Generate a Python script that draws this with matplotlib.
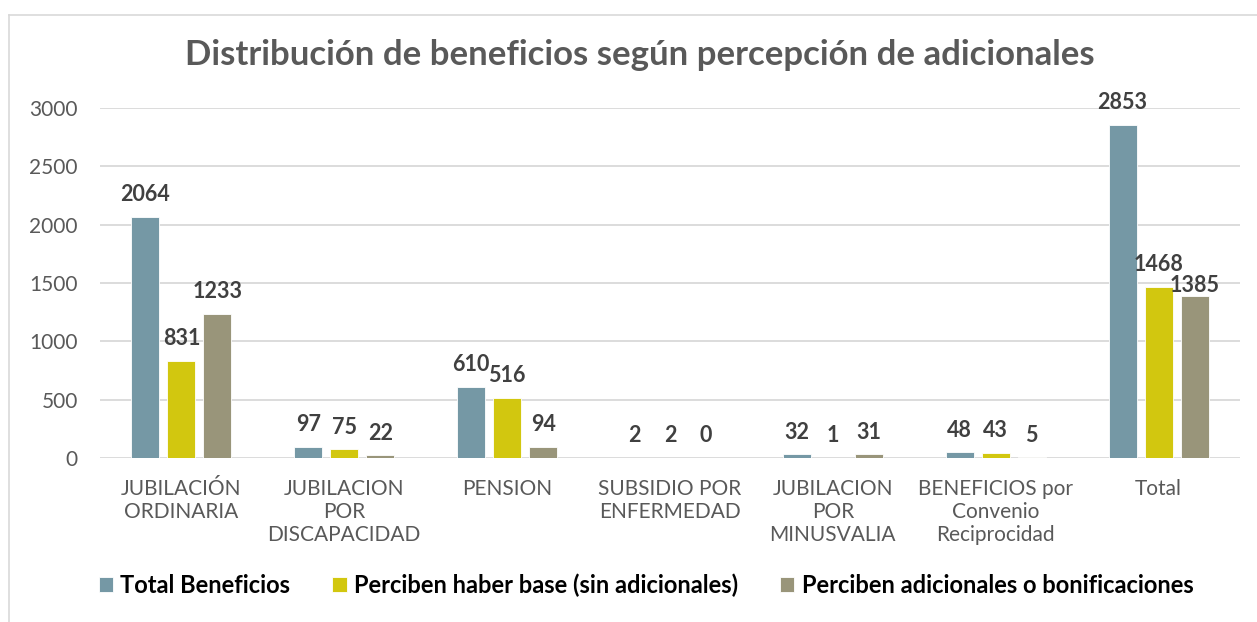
import numpy as np
import matplotlib.pyplot as plt
from matplotlib.lines import Line2D

# datos
categorias = ["JUBILACIÓN\nORDINARIA", "JUBILACION\nPOR\nDISCAPACIDAD", "PENSION",
              "SUBSIDIO POR\nENFERMEDAD", "JUBILACION\nPOR\nMINUSVALIA",
              "BENEFICIOS por\nConvenio\nReciprocidad", "Total"]
total_beneficios = [2064, 97, 610, 2, 32, 48, 2853]
haber_base = [831, 75, 516, 2, 1, 43, 1468]
adicionales = [1233, 22, 94, 0, 31, 5, 1385]

series = ["Total Beneficios", "Perciben haber base (sin adicionales)",
          "Perciben adicionales o bonificaciones"]
colores = ["#7598A5", "#D2C70F", "#99957A"]

plt.rcParams['font.family'] = ['Lato', 'DejaVu Sans']

fig = plt.figure(figsize=(12.57, 6.22), dpi=100)
ax = fig.add_axes([100/1257, 1-458/622, 1140/1257, 350/622])

x = np.arange(len(categorias))
ancho = 0.172
paso = 0.221
etiquetas = []
for i, (vals, nombre, col) in enumerate(zip([total_beneficios, haber_base, adicionales], series, colores)):
    barras = ax.bar(x + (i-1)*paso, vals, ancho, color=col, label=nombre,
                    edgecolor="white", linewidth=0.6, zorder=3)
    fila = []
    for b, v in zip(barras, vals):
        t = ax.annotate(str(v), (b.get_x() + b.get_width()/2, b.get_height()),
                        xytext=(0, 16), textcoords="offset points", ha="center", va="center",
                        fontsize=15.5, fontweight="bold", color="#404040")
        fila.append(t)
    etiquetas.append(fila)

ax.set_xlim(-0.5, len(categorias)-0.5)
ax.set_ylim(0, 3000)
ax.set_yticks(range(0, 3001, 500))
ax.yaxis.grid(True, color="#D9D9D9", linewidth=1.3, zorder=0)
ax.set_axisbelow(True)
for s in ax.spines.values():
    s.set_visible(False)
ax.tick_params(length=0, labelsize=15, labelcolor="#595959")
ax.tick_params(axis="y", pad=16)
ax.tick_params(axis="x", pad=15)
ax.set_xticks(x)
ax.set_xticklabels(categorias, linespacing=1.2)

fig.text(640/1257, 1-55/622, "Distribución de beneficios según percepción de adicionales",
         ha="center", va="center", fontsize=25, fontweight="bold", color="#595959")

leg = fig.legend(loc="center", bbox_to_anchor=(646/1257, 1-585/622), ncol=3, frameon=False,
                 prop={"size": 17, "weight": "bold"}, handlelength=0.6, handleheight=0.6,
                 handletextpad=0.3, columnspacing=1.8)

# evitar que las etiquetas de una misma categoria se pisen (como hace Excel)
fig.canvas.draw()
r = fig.canvas.get_renderer()
for j in range(len(categorias)):
    for i in range(1, 3):
        a = etiquetas[i-1][j].get_window_extent(r)
        b = etiquetas[i][j].get_window_extent(r)
        if a.x1 - b.x0 > 4 and b.y1 > a.y0 and b.y0 < a.y1:
            bajar = (b.y1 - a.y0) * 72 / fig.dpi
            etiquetas[i][j].xyann = (0, 16 - bajar)

# borde del grafico
fig.add_artist(Line2D([9/1257, 9/1257], [0, 1-15/622], color="#D9D9D9", lw=1.2))
fig.add_artist(Line2D([9/1257, 1], [1-15/622, 1-15/622], color="#D9D9D9", lw=1.2))

plt.savefig("out.png", dpi=100)
